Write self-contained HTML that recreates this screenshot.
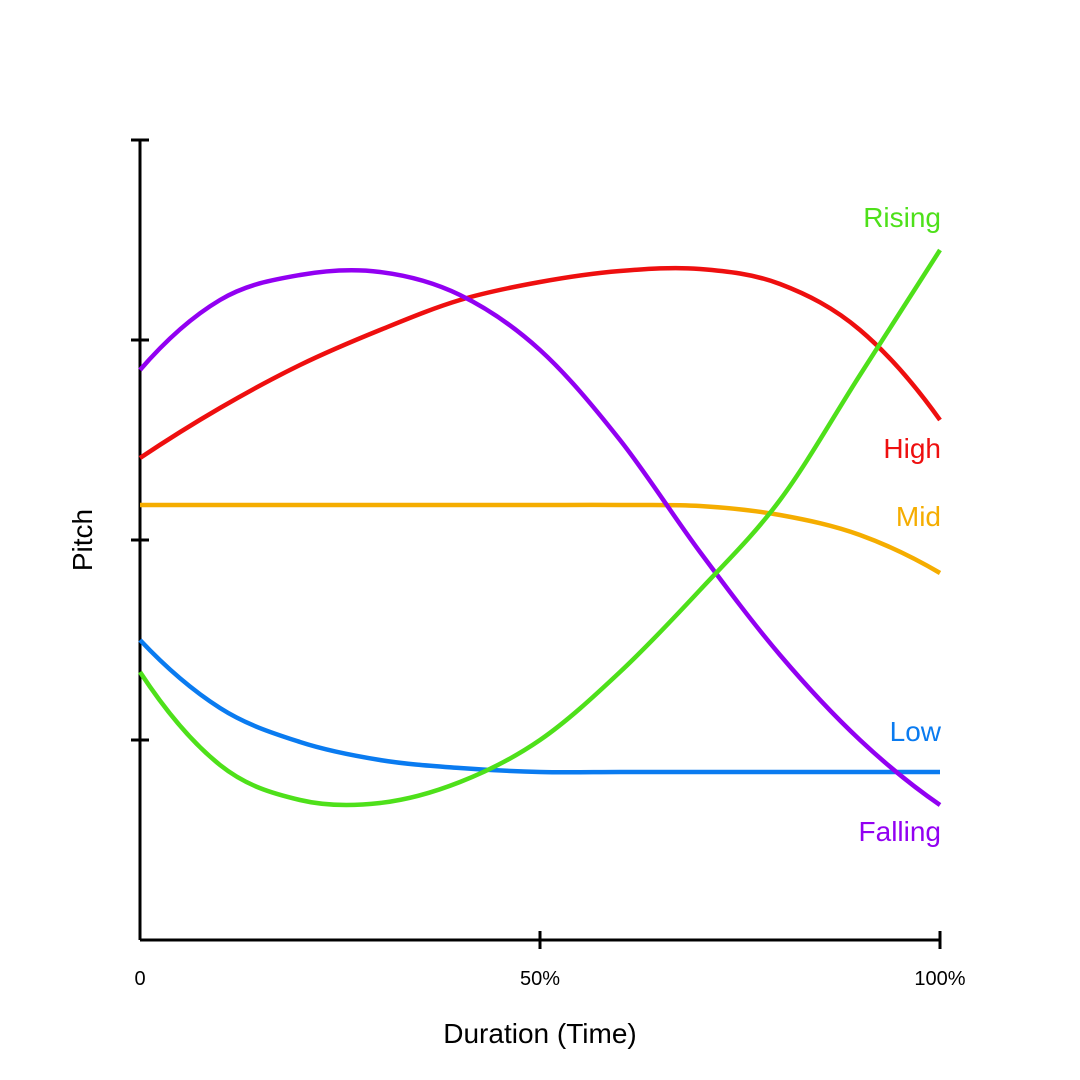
<!DOCTYPE html>
<html><head><meta charset="utf-8"><style>
html,body{margin:0;padding:0;background:#fff;}
svg{display:block;font-family:"Liberation Sans",sans-serif;}
</style></head><body>
<svg id="chart" width="1080" height="1080"></svg>
<script>
const xPct = [0,10,20,30,40,50,60,70,80,90,100];
const rising = [1.34,0.875,0.7,0.685,0.79,1.0,1.34,1.75,2.2,2.825,3.45];
const high = [2.41,2.66,2.875,3.05,3.2,3.29,3.345,3.355,3.28,3.05,2.6];
const mid = [2.175,2.175,2.175,2.175,2.175,2.175,2.175,2.17,2.125,2.025,1.835];
const low = [1.5,1.16,0.99,0.9,0.86,0.84,0.84,0.84,0.84,0.84,0.84];
const falling = [2.85,3.2,3.325,3.34,3.225,2.95,2.5,1.94,1.425,1.0,0.675];
const xTicks = [0,50,100];
const xTickLabels = ["0","50%","100%"];
const yTicks = [1,2,3,4];

const NS="http://www.w3.org/2000/svg";
const svg=document.getElementById('chart');
const sx=v=>140+v/100*800;
const sy=v=>940-v*200;
function mk(tag,attrs){const e=document.createElementNS(NS,tag);for(const k in attrs)e.setAttribute(k,attrs[k]);svg.appendChild(e);return e;}
function path(xs,ys){
  const n=xs.length;
  const px=xs.map(sx), py=ys.map(sy);
  const m=new Array(n);
  for(let i=1;i<n-1;i++) m[i]=(py[i+1]-py[i-1])/(px[i+1]-px[i-1]);
  const s0=(py[1]-py[0])/(px[1]-px[0]);
  const sn=(py[n-1]-py[n-2])/(px[n-1]-px[n-2]);
  m[0]=2*s0-m[1];
  m[n-1]=2*sn-m[n-2];
  let d=`M${px[0]},${py[0]}`;
  for(let i=0;i<n-1;i++){
    const dx=(px[i+1]-px[i])/3;
    d+=` C${px[i]+dx},${py[i]+m[i]*dx} ${px[i+1]-dx},${py[i+1]-m[i+1]*dx} ${px[i+1]},${py[i+1]}`;
  }
  return d;
}
let e=mk('line',{x1:140,y1:140,x2:140,y2:940,stroke:'#000','stroke-width':3});


e=mk('line',{x1:140,y1:940,x2:940,y2:940,stroke:'#000','stroke-width':3});


yTicks.forEach(t=>{
  const el=mk('line',{x1:131,x2:149,y1:sy(t),y2:sy(t),stroke:'#000','stroke-width':3});
  
  
});
xTicks.forEach((t,i)=>{
  if(t>0){const el=mk('line',{x1:sx(t),x2:sx(t),y1:931,y2:949,stroke:'#000','stroke-width':3});
  
  }
  const tx=mk('text',{x:sx(t),y:985,'font-size':20,'text-anchor':'middle',fill:'#000'});
  tx.textContent=xTickLabels[i];
  
  
});
e=mk('text',{x:540,y:1043,'font-size':28,'text-anchor':'middle',fill:'#000'});
e.textContent='Duration (Time)';


e=mk('text',{x:0,y:0,'font-size':28,'text-anchor':'middle',fill:'#000',transform:'translate(92,540) rotate(-90)'});
e.textContent='Pitch';



const series=[
  {name:'mid',ys:mid,c:'#f5ad00',label:'Mid',ly:526},
  {name:'low',ys:low,c:'#0a7bf0',label:'Low',ly:741},
  {name:'high',ys:high,c:'#ee0f0f',label:'High',ly:458},
  {name:'falling',ys:falling,c:'#9200f2',label:'Falling',ly:841},
  {name:'rising',ys:rising,c:'#4ee01a',label:'Rising',ly:227},
];
series.forEach(s=>{
  const p=mk('path',{d:path(xPct,s.ys),fill:'none',stroke:s.c,'stroke-width':4.5});
  
  
  const t=mk('text',{x:941,y:s.ly,'font-size':28,'text-anchor':'end',fill:s.c});
  t.textContent=s.label;
  
  
});
</script>
</body></html>
